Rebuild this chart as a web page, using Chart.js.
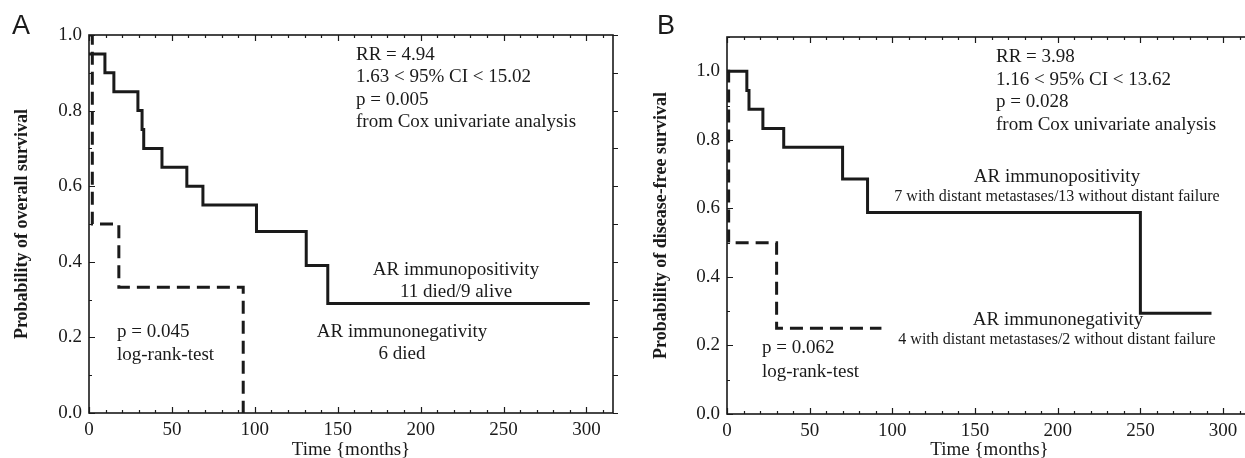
<!DOCTYPE html>
<html>
<head>
<meta charset="utf-8">
<script src="https://cdn.jsdelivr.net/npm/chart.js@4.4.1/dist/chart.umd.min.js"></script>
<style>
  html, body { margin: 0; padding: 0; background: #fff; overflow: hidden; }
  body { width: 1245px; height: 458px; position: relative; }
  canvas { position: absolute; top: 0; }
  #chartA { left: 0; }
  #chartB { left: 622px; }
</style>
</head>
<body>
<canvas id="chartA" width="622" height="458"></canvas>
<canvas id="chartB" width="630" height="458"></canvas>
<script>
// Overall survival (panel A)
const osPosMonths = [0, 9.6, 15, 29.5, 32, 33, 44, 59, 68.7, 101, 131, 144, 302];
const osPosSurvival = [0.95, 0.90, 0.85, 0.80, 0.75, 0.70, 0.65, 0.60, 0.55, 0.48, 0.39, 0.29, 0.29];
const osNegMonths = [0, 2, 18, 93];
const osNegSurvival = [1.0, 0.5, 0.333, 0];

// Disease-free survival (panel B)
const dfsPosMonths = [0, 12, 13.3, 21.7, 34.3, 69.9, 85, 250, 293];
const dfsPosSurvival = [1.0, 0.944, 0.889, 0.833, 0.778, 0.686, 0.588, 0.294, 0.294];
const dfsNegMonths = [0, 1, 30, 93.4];
const dfsNegSurvival = [1.0, 0.5, 0.25, 0.25];

// Tick labels
const xTickValues = [0, 50, 100, 150, 200, 250, 300];
const yTickValues = [0, 0.2, 0.4, 0.6, 0.8, 1.0];

const SERIF = '"Liberation Serif", "Times New Roman", serif';
const INK = '#1a1a1a';

// Build {x, y} points from two arrays
function toPoints(xs, ys) {
    return xs.map((x, i) => ({ x, y: ys[i] }));
}

// Frame, inward ticks and free text
const framePlugin = {
    id: 'frame',
    afterDraw(chart, args, opts) {
        const { ctx, chartArea: a, scales: { x, y } } = chart;
        ctx.save();
        ctx.strokeStyle = INK;
        ctx.lineWidth = 1.6;
        ctx.strokeRect(a.left, a.top, a.right - a.left, a.bottom - a.top);

        ctx.lineWidth = 1.2;
        ctx.beginPath();
        for (let v = 0; v <= x.max; v += 10) {
            const px = Math.round(x.getPixelForValue(v)) + 0.5;
            const len = v % 50 === 0 ? 6 : 3;
            ctx.moveTo(px, a.bottom); ctx.lineTo(px, a.bottom - len);
            ctx.moveTo(px, a.top); ctx.lineTo(px, a.top + len);
        }
        for (let i = 0; i * 0.1 <= y.max + 1e-9; i++) {
            const py = Math.round(y.getPixelForValue(i * 0.1)) + 0.5;
            const len = i % 2 === 0 ? 6 : 3;
            ctx.moveTo(a.left, py); ctx.lineTo(a.left + len, py);
            ctx.moveTo(a.right, py); ctx.lineTo(a.right + 5, py);
        }
        ctx.stroke();

        ctx.fillStyle = INK;
        ctx.textBaseline = 'middle';
        opts.notes.forEach(n => {
            ctx.font = n.font || ('19px ' + SERIF);
            ctx.textAlign = n.align || 'left';
            ctx.fillText(n.text, n.x, n.y);
        });
        ctx.restore();
    }
};

function makeChart(id, cfg) {
    const lineStyle = { borderColor: INK, borderWidth: 3, pointRadius: 0, stepped: true, fill: false, borderCapStyle: 'butt' };
    new Chart(document.getElementById(id), {
        type: 'line',
        data: {
            datasets: [
                Object.assign({ label: 'AR immunopositivity', data: cfg.pos }, lineStyle),
                Object.assign({ label: 'AR immunonegativity', data: cfg.neg, borderDash: [13, 7] }, lineStyle)
            ]
        },
        options: {
            responsive: false,
            animation: false,
            devicePixelRatio: 1,
            layout: { padding: cfg.padding },
            plugins: {
                legend: { display: false },
                tooltip: { enabled: false },
                frame: { notes: cfg.notes }
            },
            scales: {
                x: {
                    type: 'linear', min: 0, max: cfg.xMax,
                    grid: { display: false, drawTicks: false },
                    border: { display: false },
                    afterBuildTicks: s => { s.ticks = xTickValues.map(v => ({ value: v })); },
                    afterFit: s => { s.height = cfg.xHeight; },
                    ticks: { color: INK, font: { family: SERIF, size: 19 }, padding: 6, maxRotation: 0 },
                    title: { display: true, text: 'Time {months}', color: INK, font: { family: SERIF, size: 19 }, padding: { top: 0, bottom: -3 } }
                },
                y: {
                    type: 'linear', min: 0, max: cfg.yMax,
                    grid: { display: false, drawTicks: false },
                    border: { display: false },
                    afterBuildTicks: s => { s.ticks = yTickValues.map(v => ({ value: v })); },
                    afterFit: s => { s.width = cfg.yWidth; },
                    ticks: { color: INK, font: { family: SERIF, size: 19 }, padding: 7, callback: v => v.toFixed(1) },
                    title: { display: true, text: cfg.yTitle, color: INK, font: { family: SERIF, size: 18, weight: 'bold' }, padding: { top: cfg.yTitlePad, bottom: 0 } }
                }
            }
        },
        plugins: [framePlugin]
    });
}

makeChart('chartA', {
    pos: toPoints(osPosMonths, osPosSurvival),
    neg: toPoints(osNegMonths, osNegSurvival),
    xMax: 316, yMax: 1.0,
    padding: { top: 35, right: 9, bottom: 0, left: 0 },
    xHeight: 45, yWidth: 89, yTitlePad: 12,
    yTitle: 'Probability of overall survival',
    notes: [
        { text: 'A', x: 12, y: 27, font: '27px "Liberation Sans", Arial, sans-serif' },
        { text: 'RR = 4.94', x: 356, y: 55 },
        { text: '1.63 < 95% CI < 15.02', x: 356, y: 77 },
        { text: 'p = 0.005', x: 356, y: 100 },
        { text: 'from Cox univariate analysis', x: 356, y: 122 },
        { text: 'AR immunopositivity', x: 456, y: 270, align: 'center' },
        { text: '11 died/9 alive', x: 456, y: 292, align: 'center' },
        { text: 'AR immunonegativity', x: 402, y: 332, align: 'center' },
        { text: '6 died', x: 402, y: 354, align: 'center' },
        { text: 'p = 0.045', x: 117, y: 332 },
        { text: 'log-rank-test', x: 117, y: 355 }
    ]
});

makeChart('chartB', {
    pos: toPoints(dfsPosMonths, dfsPosSurvival),
    neg: toPoints(dfsNegMonths, dfsNegSurvival),
    xMax: 317.5, yMax: 1.1,
    padding: { top: 37, right: 0, bottom: 0, left: 0 },
    xHeight: 44, yWidth: 105, yTitlePad: 29,
    yTitle: 'Probability of disease-free survival',
    notes: [
        { text: 'B', x: 35, y: 27, font: '27px "Liberation Sans", Arial, sans-serif' },
        { text: 'RR = 3.98', x: 374, y: 57 },
        { text: '1.16 < 95% CI < 13.62', x: 374, y: 80 },
        { text: 'p = 0.028', x: 374, y: 102 },
        { text: 'from Cox univariate analysis', x: 374, y: 125 },
        { text: 'AR immunopositivity', x: 435, y: 177, align: 'center' },
        { text: '7 with distant metastases/13 without distant failure', x: 435, y: 197, align: 'center', font: '16px ' + SERIF },
        { text: 'AR immunonegativity', x: 436, y: 320, align: 'center' },
        { text: '4 with distant metastases/2 without distant failure', x: 435, y: 340, align: 'center', font: '16px ' + SERIF },
        { text: 'p = 0.062', x: 140, y: 348 },
        { text: 'log-rank-test', x: 140, y: 372 }
    ]
});
</script>
</body>
</html>
